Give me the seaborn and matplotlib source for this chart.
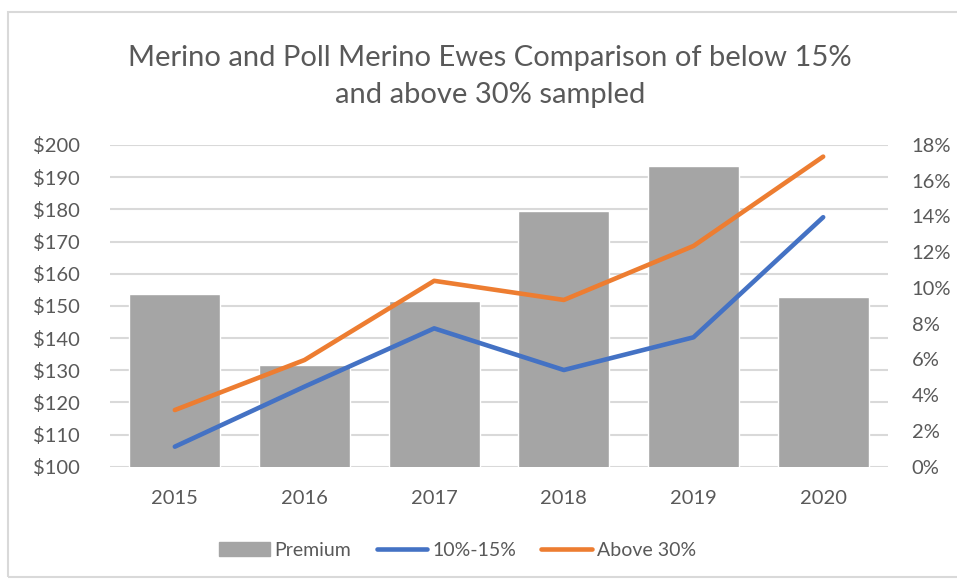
import matplotlib
matplotlib.use("Agg")
import matplotlib.pyplot as plt
import seaborn as sns
import pandas as pd
from matplotlib.patches import Patch, Rectangle
from matplotlib.lines import Line2D
from matplotlib.ticker import FuncFormatter, MultipleLocator

years = ["2015", "2016", "2017", "2018", "2019", "2020"]
premium = [153.8, 131.6, 151.6, 179.5, 193.5, 152.9]
pct_10_15 = [1.12, 4.48, 7.74, 5.41, 7.24, 13.96]
pct_above_30 = [3.17, 5.97, 10.4, 9.33, 12.35, 17.35]

title = "Merino and Poll Merino Ewes Comparison of below 15%\nand above 30% sampled"

sns.set_theme(style="white")
plt.rcParams["font.family"] = ["Lato", "DejaVu Sans"]

TXT = "#595959"
GRID = "#D9D9D9"
BAR = "#A5A5A5"
BLUE = "#4472C4"
ORANGE = "#ED7D31"

df = pd.DataFrame({"year": years, "premium": premium,
                   "low": pct_10_15, "high": pct_above_30})

fig = plt.figure(figsize=(9.57, 5.79), dpi=100)
ax = fig.add_axes([110/957, 1-466.7/579, (888-110)/957, (466.7-145)/579])

sns.barplot(data=df, x="year", y="premium", color=BAR, width=0.7,
            saturation=1, ax=ax, zorder=2, bottom=0)
ax.set_ylim(100, 200)
ax.yaxis.set_major_locator(MultipleLocator(10))
ax.yaxis.set_major_formatter(FuncFormatter(lambda v, p: f"${v:.0f}"))
ax.grid(axis="y", color=GRID, linewidth=1.5, zorder=0)
ax.set_axisbelow(True)
ax.set_xlabel("")
ax.set_ylabel("")
for s in ax.spines.values():
    s.set_visible(False)
ax.tick_params(axis="y", length=0, pad=21.5, labelsize=14.5, labelcolor=TXT)
ax.tick_params(axis="x", length=0, pad=17, labelsize=14.5, labelcolor=TXT)
ax.set_xlim(-0.5, 5.5)

ax2 = ax.twinx()
sns.lineplot(x=list(range(len(years))), y=df["low"], color=BLUE, linewidth=3.3,
             ax=ax2, solid_capstyle="round")
sns.lineplot(x=list(range(len(years))), y=df["high"], color=ORANGE, linewidth=3.3,
             ax=ax2, solid_capstyle="round")
ax2.set_ylim(0, 18)
ax2.yaxis.set_major_locator(MultipleLocator(2))
ax2.yaxis.set_major_formatter(FuncFormatter(lambda v, p: f"{v:.0f}%"))
ax2.set_ylabel("")
ax2.grid(False)
for s in ax2.spines.values():
    s.set_visible(False)
ax2.tick_params(axis="y", length=0, pad=17, labelsize=14.5, labelcolor=TXT)
ax2.set_xlim(-0.5, 5.5)

fig.text(0.512, 0.868, title, ha="center", va="center", fontsize=21,
         color=TXT, linespacing=1.5)

handles = [Patch(facecolor=BAR, edgecolor=BAR),
           Line2D([0], [0], color=BLUE, lw=3.3, solid_capstyle="round"),
           Line2D([0], [0], color=ORANGE, lw=3.3, solid_capstyle="round")]
labels = ["Premium", "10%-15%", "Above 30%"]
leg = fig.legend(handles, labels, loc="center", bbox_to_anchor=(0.478, 1-550/579),
                 ncol=3, frameon=False, fontsize=14, handlelength=2.6,
                 handletextpad=0.25, columnspacing=1.3, labelcolor=TXT)

fig.add_artist(Rectangle((8/957, 2/579), 1.0, 565/579, transform=fig.transFigure,
                         fill=False, edgecolor=GRID, linewidth=1.5))

fig.savefig("out.png", dpi=100)
